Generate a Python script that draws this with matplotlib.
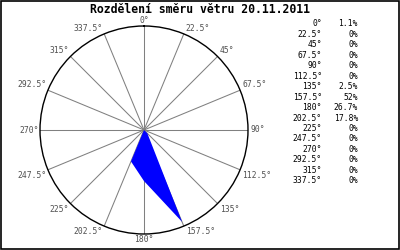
import numpy as np
import matplotlib
matplotlib.use('Agg')
import matplotlib.pyplot as plt
from matplotlib.patches import Rectangle
from matplotlib.transforms import offset_copy

# wind direction distribution, 20.11.2011
directions = [0, 22.5, 45, 67.5, 90, 112.5, 135, 157.5,
              180, 202.5, 225, 247.5, 270, 292.5, 315, 337.5]
dir_labels = ['0°', '22.5°', '45°', '67.5°', '90°', '112.5°', '135°', '157.5°',
              '180°', '202.5°', '225°', '247.5°', '270°', '292.5°', '315°', '337.5°']
percent = [1.1, 0, 0, 0, 0, 0, 2.5, 52, 26.7, 17.8, 0, 0, 0, 0, 0, 0]
pct_labels = ['1.1%', '0%', '0%', '0%', '0%', '0%', '2.5%', '52%',
              '26.7%', '17.8%', '0%', '0%', '0%', '0%', '0%', '0%']
title = 'Rozdělení směru větru 20.11.2011'

mono = 'DejaVu Sans Mono'
rmax = 54.4

fig = plt.figure(figsize=(4, 2.5), dpi=100)
ax = fig.add_axes([0.1, 0.064, 0.52, 0.832], projection='polar')
ax.set_theta_zero_location('N')
ax.set_theta_direction(-1)
ax.set_rlim(0, rmax)
ax.grid(False)
ax.set_xticks([])
ax.set_yticks([])
ax.spines['polar'].set_color('black')
ax.spines['polar'].set_linewidth(1.0)

th = np.deg2rad(directions)
for t in th:
    ax.plot([t, t], [0, rmax], color='#808080', lw=0.75, zorder=1)

ax.fill(np.append(th, th[0]), percent + [percent[0]], color='#0000ff', lw=0, zorder=2)

for d, t, lab in zip(directions, th, dir_labels):
    s, c = np.sin(t), np.cos(t)
    ha = 'center' if abs(s) < 1e-6 else ('left' if s > 0 else 'right')
    va = 'center' if abs(c) < 1e-6 else ('bottom' if c > 0 else 'top')
    dx = 0 if ha == 'center' else (1.5 if ha == 'left' else -1.0)
    dy = 0 if va == 'center' else (1.0 if va == 'bottom' else -1.0)
    tr = offset_copy(ax.transData, fig=fig, x=dx, y=dy, units='points')
    ax.text(t, rmax, lab, ha=ha, va=va, fontsize=5.8, family=mono,
            color='#505050', clip_on=False, transform=tr)

fig.text(0.5, 0.962, title, ha='center', va='center', fontsize=8.3,
         family=mono, weight='bold')

for i, (a, p) in enumerate(zip(dir_labels, pct_labels)):
    y = 1 - (24 + 10.45 * i) / 250
    fig.text(322 / 400, y, a, ha='right', va='center', fontsize=5.8, family=mono)
    fig.text(358 / 400, y, p, ha='right', va='center', fontsize=5.8, family=mono)

fig.add_artist(Rectangle((0.0015, 0.003), 0.996, 0.994, transform=fig.transFigure,
                         fill=False, edgecolor='black', lw=1.2))

fig.savefig('out.png', dpi=100)
